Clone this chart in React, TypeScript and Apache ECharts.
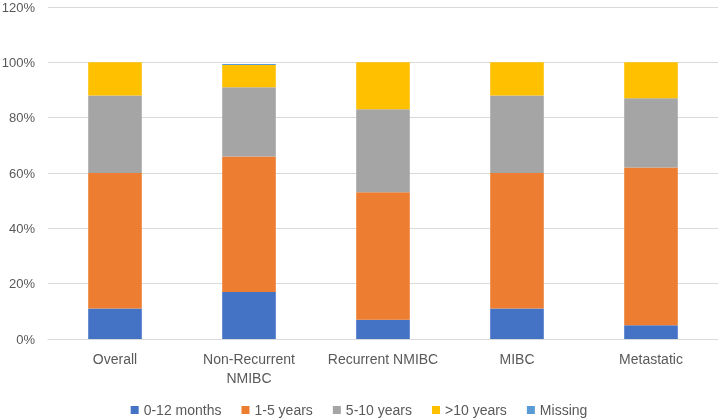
import React, { useEffect, useRef } from "react";
import * as echarts from "echarts";

const categories = ["Overall", "Non-Recurrent\nNMIBC", "Recurrent NMIBC", "MIBC", "Metastatic"];
const months0to12 = [11, 17, 7, 11, 5];
const years1to5 = [49, 49, 46, 49, 57];
const years5to10 = [28, 25, 30, 28, 25];
const yearsOver10 = [12, 8, 17, 12, 13];
const missing = [0, 0.4, 0, 0, 0];
const seriesNames = ["0-12 months", "1-5 years", "5-10 years", ">10 years", "Missing"];
const colors = ["#4472C4", "#ED7D31", "#A5A5A5", "#FFC000", "#5B9BD5"];

export default function App() {
  const ref = useRef<HTMLDivElement>(null);
  useEffect(() => {
    const chart = echarts.init(ref.current!, null, { renderer: "svg" });
    const data = [months0to12, years1to5, years5to10, yearsOver10, missing];
    chart.setOption({
      animation: false,
      textStyle: { fontFamily: "Liberation Sans, Arial, sans-serif", color: "#595959" },
      grid: { left: 48, right: 0, top: 7, bottom: 81, containLabel: false, outerBoundsMode: "none" },
      legend: {
        top: 403,
        left: "center",
        padding: [0, 5],
        itemWidth: 8,
        itemHeight: 8,
        itemGap: 20,
        icon: "rect",
        textStyle: { fontSize: 14, color: "#595959" },
        data: seriesNames,
      },
      xAxis: {
        type: "category",
        data: categories,
        axisLine: { lineStyle: { color: "#D9D9D9" } },
        axisTick: { show: false },
        axisLabel: { fontSize: 14, color: "#595959", margin: 10, lineHeight: 19, interval: 0 },
      },
      yAxis: {
        type: "value",
        min: 0,
        max: 120,
        interval: 20,
        axisLine: { show: false },
        axisTick: { show: false },
        splitLine: { lineStyle: { color: "#D9D9D9" } },
        axisLabel: { formatter: "{value}%", fontSize: 13, color: "#595959", margin: 13 },
      },
      series: seriesNames.map((name, i) => ({
        name,
        type: "bar",
        stack: "total",
        barWidth: "40%",
        data: data[i],
        itemStyle: { color: colors[i] },
      })),
    });
    return () => chart.dispose();
  }, []);
  return <div ref={ref} style={{ position: "fixed", left: 0, top: 0, width: 718, height: 420 }} />;
}
